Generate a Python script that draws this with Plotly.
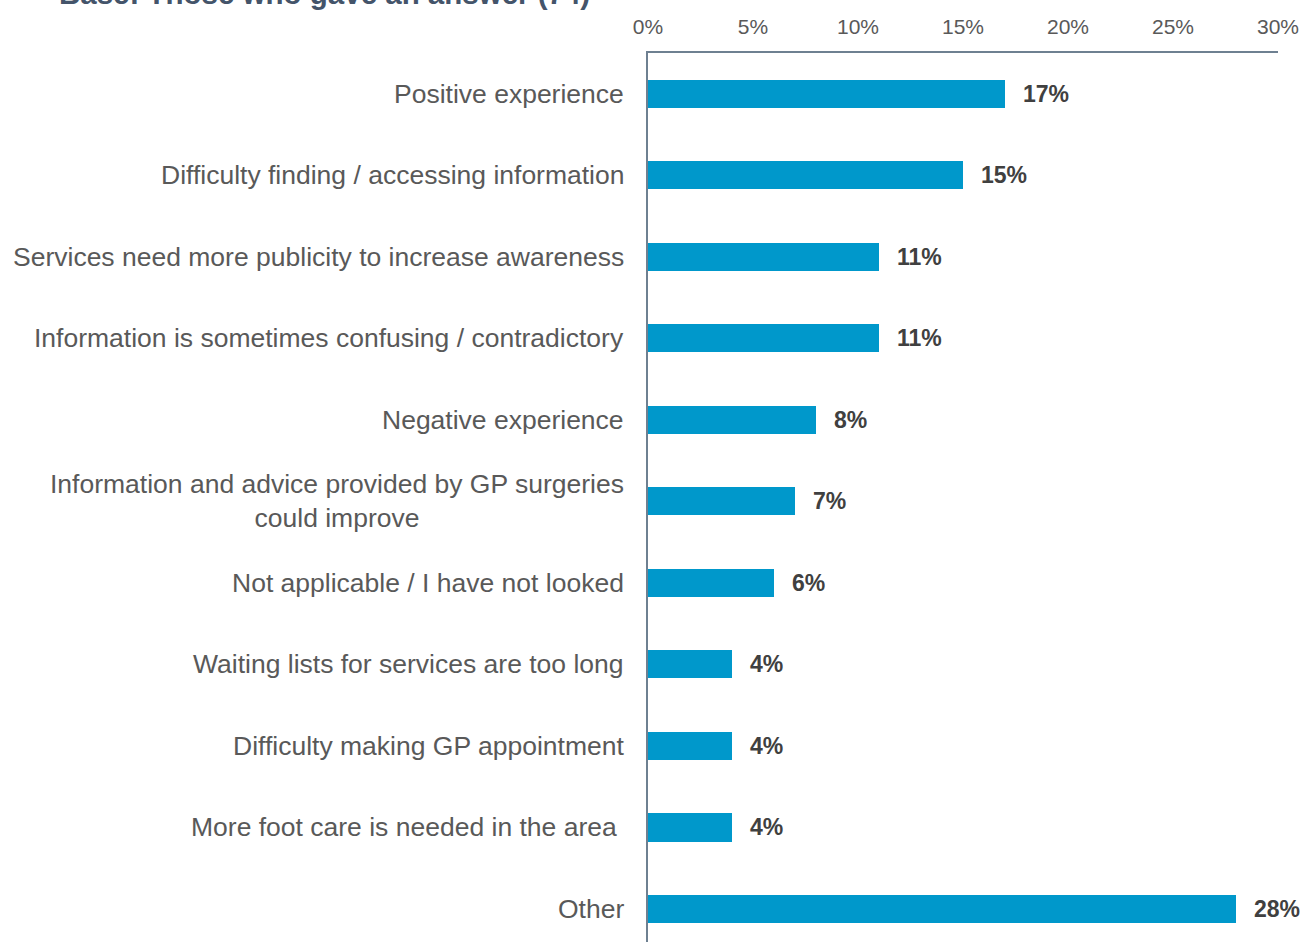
import plotly.graph_objects as go

categories = [
    "Positive experience",
    "Difficulty finding / accessing information",
    "Services need more publicity to increase awareness",
    "Information is sometimes confusing / contradictory",
    "Negative experience",
    "Information and advice provided by GP surgeries<br>could improve",
    "Not applicable / I have not looked",
    "Waiting lists for services are too long",
    "Difficulty making GP appointment",
    "More foot care is needed in the area ",
    "Other",
]
values = [17, 15, 11, 11, 8, 7, 6, 4, 4, 4, 28]
x_ticks = [0, 5, 10, 15, 20, 25, 30]
x_tick_labels = ["0%", "5%", "10%", "15%", "20%", "25%", "30%"]
title_text = "Base: Those who gave an answer (74)"

BAR = "#0098CB"
AXIS = "#6E8091"
GREY = "#595959"
DARK = "#404040"
FONT = "Liberation Sans, Arial"

W, H = 1302, 942
L, R, T, B = 648, 24, 53, 0

fig = go.Figure(
    go.Bar(
        x=values,
        y=list(range(len(categories))),
        orientation="h",
        marker=dict(color=BAR, line=dict(width=0)),
        width=0.345,
        hoverinfo="skip",
    )
)

annotations = []
# value labels to the right of each bar
for i, v in enumerate(values):
    annotations.append(dict(
        x=v, y=i, xref="x", yref="y", text=f"<b>{v}%</b>", showarrow=False,
        xanchor="left", yanchor="middle", xshift=16,
        font=dict(family=FONT, size=23, color=DARK),
    ))
# category labels to the left of the axis
for i, c in enumerate(categories):
    annotations.append(dict(
        x=0, y=i, xref="paper", yref="y", text=c, showarrow=False,
        xanchor="right", yanchor="middle", xshift=-22, align="center",
        font=dict(family=FONT, size=26.5, color=GREY),
    ))
# heading, partly above the top edge of the page
plot_w = W - L - R
plot_h = H - T - B
annotations.append(dict(
    x=(57 - L) / plot_w, y=1 + (T + 6) / plot_h, xref="paper", yref="paper",
    text=f"<b>{title_text}</b>", showarrow=False, xanchor="left", yanchor="middle",
    font=dict(family=FONT, size=29.5, color="#44546A"),
))

fig.update_layout(
    width=W, height=H,
    margin=dict(l=L, r=R, t=T, b=B),
    paper_bgcolor="white", plot_bgcolor="white",
    showlegend=False,
    bargap=0,
    xaxis=dict(
        side="top", range=[0, 30], tickvals=x_ticks, ticktext=x_tick_labels,
        showgrid=False, zeroline=False, showline=True, linecolor=AXIS, linewidth=2,
        ticks="", tickfont=dict(family=FONT, size=21, color=GREY),
        ticklabelstandoff=9,
    ),
    yaxis=dict(
        range=[10.405, -0.5], showgrid=False, zeroline=False, showline=True,
        linecolor=AXIS, linewidth=2, showticklabels=False, ticks="",
    ),
    annotations=annotations,
)

fig.write_html("out.html")
